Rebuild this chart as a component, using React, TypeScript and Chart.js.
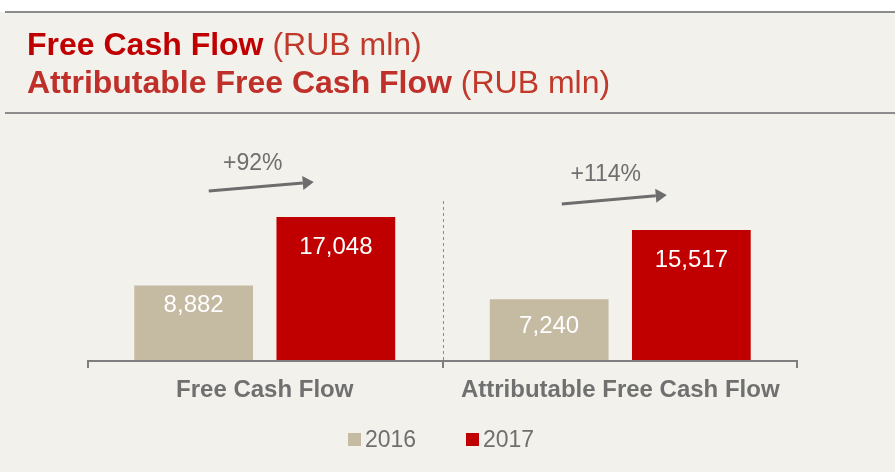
import React, { useEffect, useRef } from "react";
import { Chart, registerables } from "chart.js";

Chart.register(...registerables);

const categories = ["Free Cash Flow", "Attributable Free Cash Flow"];
const seriesNames = ["2016", "2017"];
const values2016 = [8882, 7240];
const values2017 = [17048, 15517];
const growthLabels = ["+92%", "+114%"];
const titleLine1 = ["Free Cash Flow", " (RUB mln)"];
const titleLine2 = ["Attributable Free Cash Flow", " (RUB mln)"];

const FONT = '"Liberation Sans", Arial, Helvetica, sans-serif';
const BG = "#f2f1ec";
const GRAY_TEXT = "#6f6f6f";
const C2016 = "#c5baa2";
const C2017 = "#c00000";

const fmt = (v: number) => v.toLocaleString("en-US");

const decorPlugin = {
  id: "decor",
  beforeDraw(chart: any) {
    const ctx = chart.ctx;
    const w = chart.width;
    const h = chart.height;
    ctx.save();
    ctx.fillStyle = "#ffffff";
    ctx.fillRect(0, 0, w, 12);
    ctx.fillStyle = BG;
    ctx.fillRect(0, 12, w, h - 12);
    // header rules
    ctx.fillStyle = "#8c8c8c";
    ctx.fillRect(5, 11, w - 5, 2);
    ctx.fillRect(5, 112, w - 5, 2);
    // title
    ctx.textBaseline = "alphabetic";
    ctx.textAlign = "left";
    ctx.font = `bold 32px ${FONT}`;
    ctx.fillStyle = "#c00000";
    ctx.fillText(titleLine1[0], 27, 55);
    let x1 = 27 + ctx.measureText(titleLine1[0]).width;
    ctx.font = `32px ${FONT}`;
    ctx.fillStyle = "#c0392b";
    ctx.fillText(titleLine1[1], x1, 55);
    ctx.font = `bold 32px ${FONT}`;
    ctx.fillStyle = "#c0302a";
    ctx.fillText(titleLine2[0], 27, 93);
    let x2 = 27 + ctx.measureText(titleLine2[0]).width;
    ctx.font = `32px ${FONT}`;
    ctx.fillStyle = "#c0392b";
    ctx.fillText(titleLine2[1], x2, 93);

    // separator dotted line
    const area = chart.chartArea;
    const xs = chart.scales.x;
    const sepX = (xs.getPixelForValue(0) + xs.getPixelForValue(1)) / 2;
    ctx.strokeStyle = "#8c8c8c";
    ctx.lineWidth = 1;
    ctx.setLineDash([3, 3]);
    ctx.beginPath();
    ctx.moveTo(Math.round(sepX) + 0.5, 201);
    ctx.lineTo(Math.round(sepX) + 0.5, area.bottom);
    ctx.stroke();
    ctx.setLineDash([]);
    ctx.restore();
  },
  afterDatasetsDraw(chart: any) {
    const ctx = chart.ctx;
    const area = chart.chartArea;
    const xs = chart.scales.x;
    ctx.save();
    // axis line and ticks
    ctx.strokeStyle = "#7f7f7f";
    ctx.lineWidth = 2;
    ctx.beginPath();
    ctx.moveTo(area.left, area.bottom + 1);
    ctx.lineTo(area.right, area.bottom + 1);
    const sepX = Math.round((xs.getPixelForValue(0) + xs.getPixelForValue(1)) / 2);
    [area.left + 1, sepX, area.right - 1].forEach((tx: number) => {
      ctx.moveTo(tx, area.bottom);
      ctx.lineTo(tx, area.bottom + 8);
    });
    ctx.stroke();

    // value labels
    const offsets = [
      [26, 34],
      [37, 37],
    ];
    ctx.font = `24px ${FONT}`;
    ctx.fillStyle = "#ffffff";
    ctx.textAlign = "center";
    ctx.textBaseline = "alphabetic";
    chart.data.datasets.forEach((ds: any, di: number) => {
      const meta = chart.getDatasetMeta(di);
      meta.data.forEach((bar: any, i: number) => {
        ctx.fillText(fmt(ds.data[i]), bar.x, bar.y + offsets[di][i]);
      });
    });

    // category labels
    ctx.font = `bold 24px ${FONT}`;
    ctx.fillStyle = "#707070";
    categories.forEach((c, i) => {
      ctx.fillText(c, xs.getPixelForValue(i), 397);
    });

    // growth arrows
    const meta17 = chart.getDatasetMeta(1);
    const arrowDx = [
      [-56, 49],
      [-58.5, 46.5],
    ];
    const textDx = [-12, -14.5];
    categories.forEach((_, i) => {
      const cx = xs.getPixelForValue(i);
      const top = meta17.data[i].y;
      const sx = cx + arrowDx[i][0];
      const sy = top - 26;
      const tx = cx + arrowDx[i][1];
      const ty = top - 35;
      const ang = Math.atan2(ty - sy, tx - sx);
      const hl = 11;
      const hw = 7;
      const bx = tx - hl * Math.cos(ang);
      const by = ty - hl * Math.sin(ang);
      ctx.strokeStyle = "#6d6d6d";
      ctx.fillStyle = "#6d6d6d";
      ctx.lineWidth = 3;
      ctx.beginPath();
      ctx.moveTo(sx, sy);
      ctx.lineTo(bx, by);
      ctx.stroke();
      ctx.beginPath();
      ctx.moveTo(tx, ty);
      ctx.lineTo(bx - hw * Math.sin(ang), by + hw * Math.cos(ang));
      ctx.lineTo(bx + hw * Math.sin(ang), by - hw * Math.cos(ang));
      ctx.closePath();
      ctx.fill();
      ctx.font = `23px ${FONT}`;
      ctx.fillStyle = GRAY_TEXT;
      ctx.textAlign = "center";
      ctx.fillText(growthLabels[i], cx + textDx[i], top - 47 - (i === 1 ? 2 : 0));
    });

    // legend
    const legendX = [348, 466];
    ctx.textAlign = "left";
    ctx.font = `23px ${FONT}`;
    chart.data.datasets.forEach((ds: any, di: number) => {
      ctx.fillStyle = ds.backgroundColor;
      ctx.fillRect(legendX[di], 433, 13, 13);
      ctx.fillStyle = GRAY_TEXT;
      ctx.fillText(ds.label, legendX[di] + 17, 447);
    });
    ctx.restore();
  },
};

export default function App() {
  const ref = useRef<HTMLCanvasElement | null>(null);
  useEffect(() => {
    if (!ref.current) return;
    const chart = new Chart(ref.current, {
      type: "bar",
      data: {
        labels: categories,
        datasets: [
          {
            label: seriesNames[0],
            data: values2016,
            backgroundColor: C2016,
            barPercentage: 0.835,
            categoryPercentage: 0.8,
          },
          {
            label: seriesNames[1],
            data: values2017,
            backgroundColor: C2017,
            barPercentage: 0.835,
            categoryPercentage: 0.8,
          },
        ],
      },
      options: {
        animation: false,
        responsive: false,
        maintainAspectRatio: false,
        devicePixelRatio: 1,
        layout: { padding: { left: 87, right: 97, top: 142, bottom: 112 } },
        plugins: { legend: { display: false }, tooltip: { enabled: false } },
        scales: {
          x: { display: false },
          y: { display: false, min: 0, max: 26000 },
        },
      },
      plugins: [decorPlugin],
    });
    return () => chart.destroy();
  }, []);
  return (
    <div style={{ position: "fixed", left: 0, top: 0, width: 895, height: 472, background: BG }}>
      <canvas ref={ref} width={895} height={472} style={{ display: "block", width: 895, height: 472 }} />
    </div>
  );
}
